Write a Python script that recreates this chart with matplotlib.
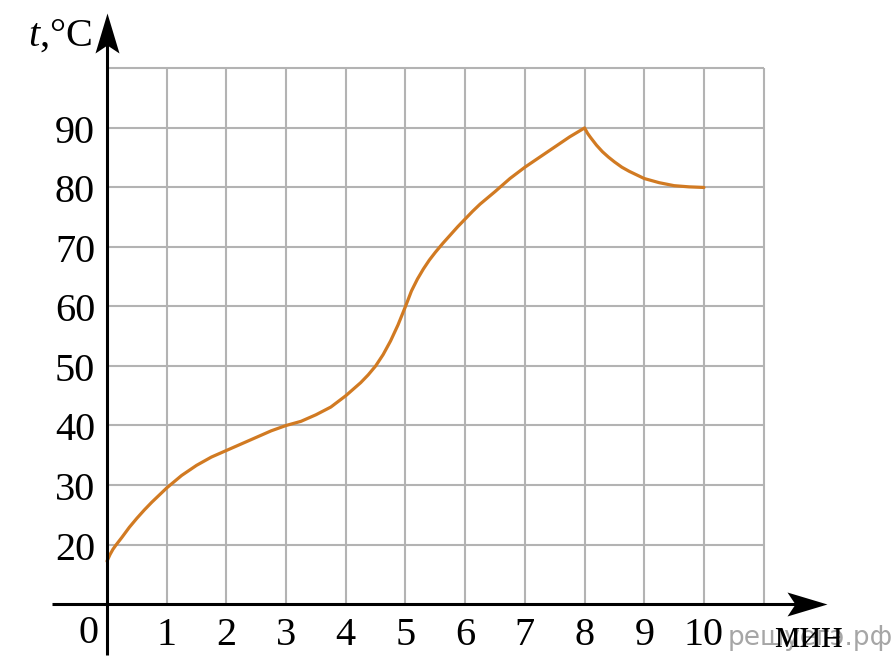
import numpy as np
import matplotlib.pyplot as plt
from matplotlib.path import Path

plt.rcParams['font.family'] = ['Liberation Serif', 'DejaVu Serif']
plt.rcParams['mathtext.fontset'] = 'custom'
plt.rcParams['mathtext.it'] = 'Liberation Serif:italic'
plt.rcParams['mathtext.rm'] = 'Liberation Serif'

# heating curve
minutes = [0, 0.05, 0.1, 0.15, 0.25, 0.375, 0.5, 0.625, 0.75, 0.875, 1,
           1.25, 1.5, 1.75, 2, 2.25, 2.5, 2.75, 3, 3.25, 3.5, 3.75, 4, 4.25,
           4.375, 4.5, 4.625, 4.75, 4.875, 5, 5.1, 5.2, 5.3, 5.4, 5.5, 5.625,
           5.75, 5.875, 6, 6.125, 6.25, 6.5, 6.75, 7, 7.25, 7.5, 7.75, 8,
           8.05, 8.1, 8.2, 8.3, 8.4, 8.5, 8.625, 8.75, 8.875, 9, 9.25, 9.5,
           9.75, 10]
temps = [17.2, 18.3, 19.2, 19.9, 21.2, 22.9, 24.4, 25.8, 27.1, 28.3, 29.5,
         31.6, 33.3, 34.7, 35.8, 36.9, 38.0, 39.1, 40.0, 40.7, 41.8, 43.1,
         45.0, 47.2, 48.5, 50.0, 51.9, 54.2, 56.9, 60.0, 62.6, 64.6, 66.3,
         67.8, 69.1, 70.6, 72.0, 73.4, 74.7, 76.0, 77.2, 79.3, 81.5, 83.4,
         85.1, 86.8, 88.5, 90.0, 89.1, 88.4, 87.1, 86.0, 85.1, 84.3, 83.4,
         82.7, 82.1, 81.5, 80.8, 80.3, 80.1, 80.0]

x_ticks = list(range(1, 11))
x_grid = list(range(1, 12))
y_ticks = [20, 30, 40, 50, 60, 70, 80, 90]
y_grid = [20, 30, 40, 50, 60, 70, 80, 90, 100]
y_base = 10  # value where the (broken) time axis sits, labelled 0

fig = plt.figure(figsize=(8.95, 6.69), dpi=100)
ax = fig.add_axes([0, 0, 1, 1])
ax.set_xlim(-1.792, 13.2)
ax.set_ylim(-0.92, 111.5)
ax.axis('off')

# grid
ax.vlines(x_grid, y_base, y_grid[-1], color='#b3b3b3', lw=1.5, zorder=1)
ax.hlines(y_grid, 0, x_grid[-1], color='#b3b3b3', lw=1.5, zorder=1)

# curve
ax.plot(minutes, temps, color='#d17a22', lw=2.3, zorder=3,
        solid_joinstyle='round', solid_capstyle='round')

# axes with notched arrow heads (tip at marker origin)
head_up = Path([(0, 0), (12, -40), (0, -32), (-12, -40), (0, 0)],
               [Path.MOVETO, Path.LINETO, Path.LINETO, Path.LINETO,
                Path.CLOSEPOLY])
head_right = Path([(0, 0), (-40, 12), (-32, 0), (-40, -12), (0, 0)],
                  [Path.MOVETO, Path.LINETO, Path.LINETO, Path.LINETO,
                   Path.CLOSEPOLY])
y_tip, x_tip = 109.3, 12.06
ax.plot([0, 0], [1.43, y_tip - 4], color='black', lw=2.2, zorder=4,
        solid_capstyle='butt')
ax.plot([-0.92, x_tip - 0.5], [y_base, y_base], color='black', lw=2.2,
        zorder=4, solid_capstyle='butt')
ax.plot(0, y_tip, marker=head_up, markersize=57.6, color='black',
        markeredgewidth=0, zorder=5)
ax.plot(x_tip, y_base, marker=head_right, markersize=57.6, color='black',
        markeredgewidth=0, zorder=5)

# tick labels
for v in y_ticks:
    ax.text(-0.2, v - 2.52, str(v), ha='right', va='baseline', fontsize=29)
for m in x_ticks:
    ax.text(m, 3.1, str(m), ha='center', va='baseline', fontsize=29)
ax.text(-0.15, 3.45, '0', ha='right', va='baseline', fontsize=29)

# watermark
ax.text(10.39, 3.1, 'решуегэ.рф', ha='left', va='baseline', fontsize=19,
        color='#a6a6a6', family=['DejaVu Sans'], zorder=2)

# axis titles
ax.text(11.17, 2.77, 'мин', ha='left', va='baseline', fontsize=29, zorder=5)
ax.text(-0.25, 103.9, r'$t$,°C', ha='right', va='baseline', fontsize=29)

fig.savefig('out.png', dpi=100)
